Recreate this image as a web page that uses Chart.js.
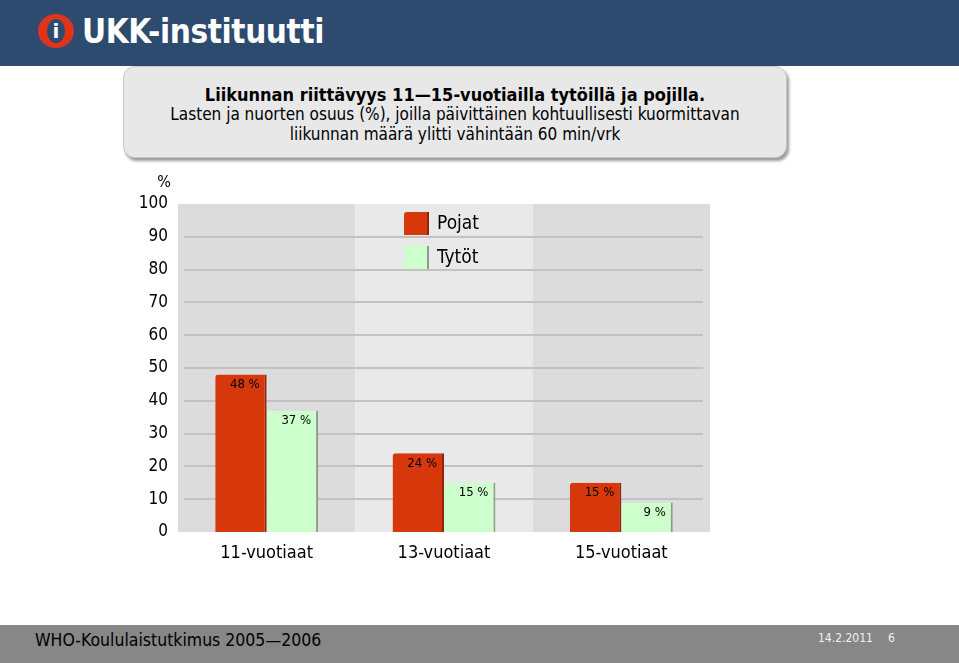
<!DOCTYPE html>
<html><head><meta charset="utf-8">
<script src="https://cdn.jsdelivr.net/npm/chart.js@4"></script>
<style>
html,body{margin:0;padding:0;width:959px;height:663px;overflow:hidden;background:#fff;font-family:"DejaVu Sans Condensed","DejaVu Sans",sans-serif;}
#hdr{position:absolute;left:0;top:0;width:959px;height:66px;background:#2d4a6f;}
#logo{position:absolute;left:38px;top:14px;width:36px;height:34px;border-radius:50%;background:#e0341a;}
#logo span{position:absolute;left:9px;top:5px;width:18px;height:24px;border-radius:50%;background:#2d4a6f;color:#fff;font:bold 20px "DejaVu Sans";text-align:center;line-height:24px;}
#brand{position:absolute;left:82px;top:12px;color:#fff;font:bold 33px "DejaVu Sans Condensed","DejaVu Sans";letter-spacing:-0.4px;}
#box{position:absolute;left:123px;top:66px;width:662px;height:90px;background:#e8e8e8;border:1px solid #c8c8c8;border-radius:12px;box-shadow:2px 3px 3px #9a9a9a;text-align:center;color:#000;}
#t1{position:absolute;left:0;right:0;top:17px;font:bold 18px "DejaVu Sans Condensed";}
#t2{position:absolute;left:0;right:0;top:37px;font:17px "DejaVu Sans Condensed";line-height:20px;}
#ftr{position:absolute;left:0;top:625px;width:959px;height:38px;background:#878787;}
#f1{position:absolute;left:35px;top:5px;font:17.5px "DejaVu Sans Condensed";color:#000;}
#f2{position:absolute;left:818px;top:6px;font:12px "DejaVu Sans Condensed";color:#f2f2f2;}
#f3{position:absolute;left:888px;top:6px;font:12px "DejaVu Sans Condensed";color:#f2f2f2;}
#c{position:absolute;left:0;top:0;}
</style></head><body>
<div id="hdr"><div id="logo"><span>i</span></div><div id="brand">UKK-instituutti</div></div>
<div id="box"><div id="t1">Liikunnan riittävyys 11—15-vuotiailla tytöillä ja pojilla.</div>
<div id="t2">Lasten ja nuorten osuus (%), joilla päivittäinen kohtuullisesti kuormittavan<br>liikunnan määrä ylitti vähintään 60 min/vrk</div></div>
<div id="ftr"><div id="f1">WHO-Koululaistutkimus 2005—2006</div><div id="f2">14.2.2011</div><div id="f3">6</div></div>
<canvas id="c" width="959" height="663"></canvas>
<script>
const categories = ["11-vuotiaat", "13-vuotiaat", "15-vuotiaat"];
const seriesNames = ["Pojat", "Tytöt"];
const pojat = [48, 24, 15];
const tytot = [37, 15, 9];
const yTicks = [0, 10, 20, 30, 40, 50, 60, 70, 80, 90, 100];
const FONT = '"DejaVu Sans Condensed", "DejaVu Sans", sans-serif';

const bgPlugin = {
  id: 'bg',
  beforeDatasetsDraw(chart) {
    const {ctx, chartArea: a, scales: {x, y}} = chart;
    ctx.save();
    const w = (a.right - a.left) / categories.length;
    categories.forEach((c, i) => {
      ctx.fillStyle = i % 2 === 0 ? '#dcdcdc' : '#e9e9e9';
      ctx.fillRect(a.left + i * w, a.top, w, a.bottom - a.top);
    });
    ctx.strokeStyle = '#c2c2c2';
    ctx.lineWidth = 2;
    yTicks.forEach(v => {
      if (v === 0 || v === 100) return;
      const py = Math.round(y.getPixelForValue(v));
      ctx.beginPath();
      ctx.moveTo(a.left + 6, py);
      ctx.lineTo(a.right - 7, py);
      ctx.stroke();
    });
    ctx.restore();
  },
  afterDatasetsDraw(chart) {
    const {ctx, chartArea: a, scales: {y}} = chart;
    ctx.save();
    ctx.font = '13px ' + FONT;
    ctx.fillStyle = '#000';
    ctx.textAlign = 'right';
    ctx.textBaseline = 'middle';
    chart.data.datasets.forEach((ds, di) => {
      chart.getDatasetMeta(di).data.forEach((bar, i) => {
        ctx.fillText(ds.data[i] + ' %', bar.x + bar.width / 2 - 7, bar.y + 10);
      });
    });
    ctx.font = '16px ' + FONT;
    ctx.textAlign = 'right';
    ctx.fillText('%', a.left - 7, a.top - 21);
    const lx = 404;
    chart.data.datasets.forEach((ds, di) => {
      const ly = 212 + di * 34;
      ctx.fillStyle = ds.backgroundColor;
      ctx.beginPath();
      ctx.roundRect(lx, ly, 24, 23, [3, 0, 0, 0]);
      ctx.fill();
      ctx.fillStyle = ds.borderColor;
      ctx.fillRect(lx + 23, ly, 2, 23);
      ctx.fillStyle = '#000';
      ctx.font = '19px ' + FONT;
      ctx.textAlign = 'left';
      ctx.fillText(ds.label, lx + 33, ly + 12);
    });
    ctx.restore();
  }
};

new Chart(document.getElementById('c'), {
  type: 'bar',
  data: {
    labels: categories,
    datasets: [
      {label: seriesNames[0], data: pojat, backgroundColor: '#d6380c', borderColor: '#8f2408',
       borderWidth: {right: 2, top: 0, left: 0, bottom: 0}, borderSkipped: false, borderRadius: {topLeft: 3, topRight: 0, bottomLeft: 0, bottomRight: 0},
       categoryPercentage: 0.58, barPercentage: 1.0},
      {label: seriesNames[1], data: tytot, backgroundColor: '#ccffcc', borderColor: '#8e9a8e',
       borderWidth: {right: 2, top: 0, left: 0, bottom: 0}, borderSkipped: false,
       categoryPercentage: 0.58, barPercentage: 1.0}
    ]
  },
  options: {
    responsive: false,
    animation: false,
    layout: {padding: {left: 138, right: 249, top: 204, bottom: 91}},
    plugins: {legend: {display: false}, tooltip: {enabled: false}},
    scales: {
      x: {
        grid: {display: false, drawTicks: false},
        border: {display: false},
        ticks: {color: '#000', font: {family: FONT, size: 18}, padding: 11},
        afterFit: s => { s.height = 40; }
      },
      y: {
        min: 0, max: 100,
        afterBuildTicks: s => { s.ticks = yTicks.map(v => ({value: v})); },
        grid: {display: false, drawTicks: false},
        border: {display: false},
        ticks: {color: '#000', font: {family: FONT, size: 17}, padding: 10},
        afterFit: s => { s.width = 40; }
      }
    }
  },
  plugins: [bgPlugin]
});
</script>
</body></html>
